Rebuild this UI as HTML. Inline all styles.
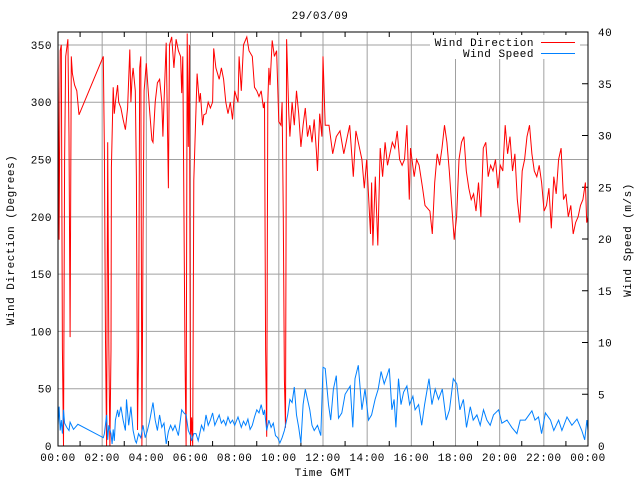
<!DOCTYPE html>
<html><head><meta charset="utf-8"><style>
body{margin:0;background:#fff;}
svg{display:block;}
text{font-family:"Liberation Mono","DejaVu Sans Mono",monospace;font-size:11px;letter-spacing:0.5px;fill:#000;}
</style></head><body>
<svg id="chart" width="640" height="480" viewBox="0 0 640 480"></svg>
<script>
const dirTimes=[0,0.05,0.1,0.15,0.2,0.25,0.3,0.35,0.45,0.5,0.55,0.6,0.65,0.75,0.85,0.95,2.05,2.1,2.15,2.2,2.25,2.3,2.35,2.4,2.42,2.5,2.55,2.6,2.7,2.75,2.85,2.95,3.05,3.15,3.25,3.3,3.35,3.4,3.5,3.55,3.6,3.65,3.7,3.75,3.8,3.85,3.9,4.0,4.05,4.15,4.25,4.3,4.4,4.5,4.6,4.7,4.75,4.8,4.9,5.0,5.05,5.15,5.25,5.35,5.45,5.55,5.6,5.65,5.75,5.8,5.85,5.9,5.95,6.0,6.05,6.1,6.15,6.3,6.4,6.45,6.55,6.6,6.7,6.8,6.9,7.0,7.05,7.15,7.3,7.4,7.5,7.6,7.7,7.8,7.9,8.0,8.15,8.2,8.3,8.4,8.55,8.65,8.8,8.9,9.0,9.1,9.2,9.3,9.35,9.4,9.45,9.5,9.55,9.6,9.7,9.8,9.9,10.0,10.1,10.15,10.2,10.25,10.3,10.35,10.45,10.5,10.6,10.7,10.8,10.9,11.0,11.1,11.2,11.3,11.4,11.5,11.6,11.7,11.75,11.85,11.95,12.0,12.1,12.27,12.44,12.6,12.77,12.94,13.1,13.21,13.37,13.49,13.6,13.76,13.87,13.98,14.15,14.2,14.26,14.37,14.48,14.59,14.7,14.81,14.92,15.03,15.14,15.25,15.36,15.47,15.58,15.69,15.8,15.91,15.96,16.13,16.24,16.35,16.51,16.62,16.84,16.95,17.06,17.17,17.28,17.39,17.5,17.61,17.72,17.83,17.94,18.05,18.16,18.27,18.38,18.49,18.6,18.71,18.82,18.93,19.04,19.15,19.26,19.37,19.48,19.59,19.7,19.81,19.92,20.03,20.14,20.25,20.36,20.47,20.58,20.69,20.8,20.91,21.02,21.13,21.24,21.35,21.46,21.57,21.68,21.79,21.9,22.01,22.12,22.23,22.34,22.45,22.56,22.67,22.78,22.89,23.0,23.11,23.22,23.33,23.44,23.55,23.66,23.77,23.88,23.94,24.0];
const dirValues=[350,180,345,350,85,0,250,340,355,270,95,340,325,315,310,289,340,257,91,0,265,90,0,84,243,313,290,300,315,300,295,285,276,295,346,300,320,330,310,235,14,85,330,340,0,178,310,334,320,293,267,265,300,317,320,300,270,300,352,225,350,357,330,355,345,340,308,340,78,0,360,261,350,0,25,0,232,325,300,308,280,289,290,300,295,300,347,330,320,330,320,300,290,300,285,310,300,340,310,350,357,345,340,313,310,305,310,295,300,84,8,300,330,315,354,340,345,283,280,300,200,58,16,355,290,270,300,280,310,290,261,280,295,270,280,265,285,257,240,290,270,340,280,280,255,270,275,255,270,280,235,275,265,250,225,250,185,230,175,235,175,260,235,265,245,255,265,260,275,250,245,250,280,215,260,235,250,245,225,210,205,185,230,255,245,260,280,265,240,210,180,200,250,265,270,240,225,215,220,205,230,200,260,265,235,245,240,250,225,245,240,280,255,270,240,255,215,195,240,250,270,280,255,240,235,245,230,205,210,225,190,235,220,250,260,215,220,200,210,185,195,200,210,215,230,195,200];
const spdTimes=[0,0.05,0.1,0.15,0.2,0.25,0.3,0.4,0.5,0.55,0.7,0.9,2.05,2.1,2.2,2.25,2.3,2.4,2.45,2.5,2.55,2.6,2.7,2.75,2.85,2.95,3.05,3.1,3.2,3.3,3.4,3.5,3.55,3.65,3.75,3.85,3.95,4.05,4.15,4.3,4.4,4.5,4.6,4.7,4.8,4.9,5.0,5.1,5.2,5.3,5.45,5.6,5.7,5.8,5.9,6.0,6.05,6.15,6.25,6.35,6.5,6.6,6.7,6.8,6.9,7.0,7.1,7.2,7.3,7.4,7.5,7.6,7.7,7.8,7.9,8.0,8.15,8.3,8.4,8.5,8.6,8.7,8.8,8.9,9.0,9.1,9.2,9.3,9.35,9.45,9.55,9.65,9.75,9.85,9.95,10.05,10.15,10.25,10.4,10.5,10.6,10.7,10.8,10.9,11.0,11.1,11.2,11.3,11.4,11.5,11.6,11.75,11.9,12.0,12.1,12.25,12.35,12.47,12.6,12.7,12.85,13.0,13.23,13.35,13.45,13.6,13.76,13.9,14.06,14.2,14.36,14.5,14.63,14.77,14.9,15.0,15.12,15.22,15.3,15.42,15.53,15.65,15.8,15.92,16.07,16.17,16.33,16.47,16.6,16.8,16.93,17.08,17.23,17.4,17.58,17.73,17.9,18.06,18.2,18.36,18.5,18.67,18.8,18.97,19.12,19.27,19.42,19.57,19.72,19.95,20.1,20.33,20.55,20.78,20.93,21.16,21.46,21.6,21.76,21.9,22.07,22.3,22.45,22.67,22.82,23.05,23.27,23.5,23.72,23.85,23.95,24.0];
const spdValues=[2,3.8,1.5,2.5,1.2,3.5,2.2,1.8,1.5,2.3,1.6,2.1,0.8,1.2,3.0,0.6,2.0,1.2,0.2,1.6,0.5,2.5,3.5,2.8,3.8,2.5,1.5,4.5,2,3.8,1.5,0.5,0.3,1.2,0.8,2,0.8,1.5,2.4,4.2,2.5,1.5,3.0,1.8,2.2,0.2,1.4,2.0,1.5,2.0,1.0,3.5,3.2,3.0,1.5,1.0,0.5,1.2,1.2,0.5,2.0,1.5,3.0,2.0,2.5,3.2,2.0,2.5,3.0,2.2,2.5,2.0,2.8,2.2,2.5,2.0,2.8,1.8,2.4,2.0,2.6,1.6,2.0,2.8,3.5,3.2,4.0,3.0,3.5,1.5,2.5,1.8,2.2,1.0,0.8,0.3,0.8,1.5,3.0,4.5,4.2,5.7,3.0,1.8,0.3,4.0,5.5,4.5,3.5,2.0,1.5,2.0,1.0,7.6,7.5,4,2.5,5.5,6.8,2.7,3.2,5.0,5.8,1.8,6.5,7.8,3.5,5.5,2.5,3.0,4.5,5.5,7.2,6.0,6.8,7.5,3.5,4.5,1.8,6.5,4.0,5.2,5.8,4.0,4.8,3.5,4.0,2.0,4.0,6.5,4.0,5.5,4.5,5.5,2.5,3.5,6.5,6.0,3.5,4.5,1.8,3.8,2.5,3.0,2.0,3.5,2.5,2.0,3.0,3.5,2.2,2.5,1.8,1.2,2.5,2.5,3.4,2.5,2.8,1.2,3.2,2.5,1.5,2.5,1.5,2.8,2.0,2.6,1.5,0.6,2.5,1.5];
const xTickLabels=["00:00","02:00","04:00","06:00","08:00","10:00","12:00","14:00","16:00","18:00","20:00","22:00","00:00"];
const leftTicks=[0,50,100,150,200,250,300,350];
const rightTicks=[0,5,10,15,20,25,30,35,40];

const svg=document.getElementById('chart');
const NS='http://www.w3.org/2000/svg';
const L=58,R=588,T=32,B=446;
const xs=h=>L+(R-L)*h/24;
const yl=d=>B-(B-T)*d/361.3;
const yr=v=>B-(B-T)*v/40;
function mk(tag,attrs,parent){const e=document.createElementNS(NS,tag);for(const k in attrs)e.setAttribute(k,attrs[k]);(parent||svg).appendChild(e);return e;}

const grid=mk('g',{});


xTickLabels.forEach((lab,i)=>{
  const x=xs(i*2);
  if(i>0&&i<12){const g=mk('line',{x1:x,x2:x,y1:T,y2:B,stroke:'#a0a0a0','stroke-width':1},grid);
  }
  const t=mk('text',{x:x,y:461,'text-anchor':'middle'});t.textContent=lab;
  
  
});
for(let h=1;h<24;h+=2){mk('line',{x1:xs(h),x2:xs(h),y1:B,y2:B-5,stroke:'#000'});mk('line',{x1:xs(h),x2:xs(h),y1:T,y2:T+5,stroke:'#000'});}
leftTicks.forEach(d=>{
  const y=yl(d);
  if(d>0){const g=mk('line',{x1:L,x2:R,y1:y,y2:y,stroke:'#a0a0a0','stroke-width':1},grid);
  }
  const t=mk('text',{x:52,y:y+4,'text-anchor':'end'});t.textContent=d;
  
  
});
rightTicks.forEach(v=>{
  const y=yr(v);
  mk('line',{x1:R-6,x2:R,y1:y,y2:y,stroke:'#000'});
  const t=mk('text',{x:598,y:y+4,'text-anchor':'start'});t.textContent=v;
  
  
});

const dirPts=dirTimes.map((h,i)=>xs(h).toFixed(1)+','+yl(dirValues[i]).toFixed(1)).join(' ');
const dl=mk('polyline',{points:dirPts,fill:'none',stroke:'#ff0000','stroke-width':1});


const spPts=spdTimes.map((h,i)=>xs(h).toFixed(1)+','+yr(spdValues[i]).toFixed(1)).join(' ');
const sl=mk('polyline',{points:spPts,fill:'none',stroke:'#0080ff','stroke-width':1});



const fr=mk('rect',{x:L,y:T,width:R-L,height:B-T,fill:'none',stroke:'#000','stroke-width':1});



const lg=mk('g',{});


const lbg=mk('rect',{x:430,y:35,width:150,height:24,fill:'#fff'},lg);
const t1=mk('text',{x:534,y:46,'text-anchor':'end'},lg);t1.textContent='Wind Direction';


mk('line',{x1:541,x2:575,y1:42.5,y2:42.5,stroke:'#ff0000'},lg);
const t2=mk('text',{x:534,y:57,'text-anchor':'end'},lg);t2.textContent='Wind Speed';


mk('line',{x1:541,x2:575,y1:53.5,y2:53.5,stroke:'#0080ff'},lg);

const tt=mk('text',{x:320,y:19,'text-anchor':'middle'});tt.textContent='29/03/09';


const xt=mk('text',{x:323,y:476,'text-anchor':'middle'});xt.textContent='Time GMT';


const ylt=mk('text',{x:0,y:0,'text-anchor':'middle',transform:'translate(14,240) rotate(-90)'});ylt.textContent='Wind Direction (Degrees)';


const yrt=mk('text',{x:0,y:0,'text-anchor':'middle',transform:'translate(631,240) rotate(-90)'});yrt.textContent='Wind Speed (m/s)';


</script>
</body></html>
